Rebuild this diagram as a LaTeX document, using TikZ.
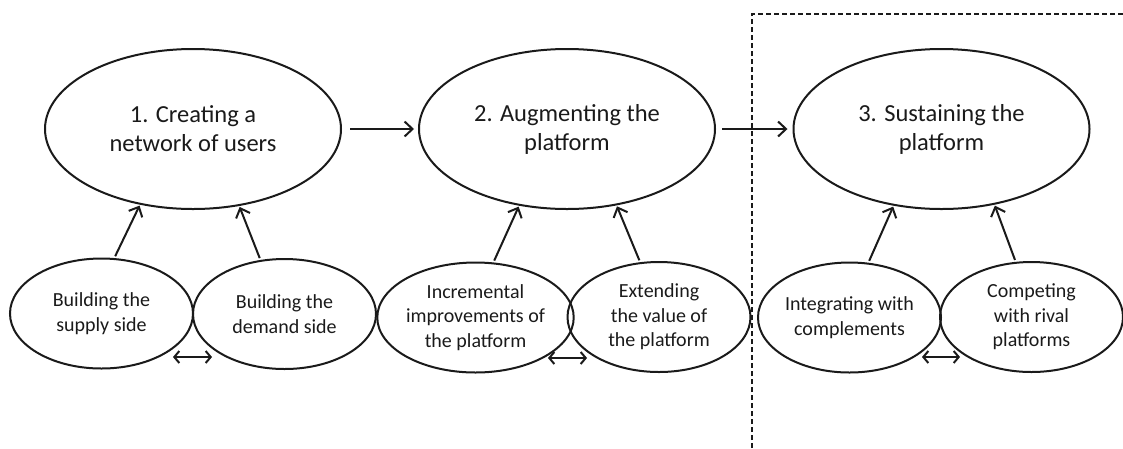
\documentclass[tikz,border=0pt]{standalone}
\usepackage{fontspec}
\setmainfont{Carlito}
\usetikzlibrary{shapes.geometric,arrows.meta}
\definecolor{ink}{HTML}{1A1A1A}
\tikzset{
  bigell/.style={draw=ink, line width=2pt, ellipse, inner sep=0pt, minimum width=296pt, minimum height=160pt,
    align=center, font=\fontsize{24.5}{29}\selectfont, text=ink},
  smallell/.style={draw=ink, line width=2pt, ellipse, inner sep=0pt, minimum width=183pt, minimum height=110pt,
    align=center, font=\fontsize{20}{24.5}\selectfont, text=ink},
  flow/.style={draw=ink, line width=2pt, -{Straight Barb[length=8pt,width=15pt,line width=2pt]}},
  mutual/.style={draw=ink, line width=2pt, {Straight Barb[length=5pt,width=12pt,line width=2pt]}-{Straight Barb[length=5pt,width=12pt,line width=2pt]}},
  phase/.style={draw=ink, line width=1.1pt, dash pattern=on 5pt off 3pt}
}
\begin{document}
\begin{tikzpicture}[x=1pt,y=-1pt]
\useasboundingbox (0,0) rectangle (1123,448);
% dashed boundary
\coordinate (dtop) at (752,14);
\coordinate (dright) at (1123,14);
\coordinate (dbot) at (752,448);
\draw[phase] (dbot) -- (dtop) -- (dright);
% big ellipses
\node[bigell] (e1) at (193,129) {1. Creating a\\network of users};
\node[bigell] (e2) at (567,129) {2. Augmenting the\\platform};
\node[bigell] (e3) at (941.5,129) {3. Sustaining the\\platform};
% small ellipses
\node[smallell] (s1a) at (101.5,313.5) {Building the\\supply side};
\node[smallell] (s1b) at (284.5,314) {Building the\\demand side};
\node[smallell] (s2a) at (475.5,317.5) {Incremental\\improvements of\\the platform};
\node[smallell] (s2b) at (659,317) {Extending\\the value of\\the platform};
\node[smallell] (s3a) at (849.5,317.5) {Integrating with\\complements};
\node[smallell] (s3b) at (1031.5,317) {Competing\\with rival\\platforms};
% flow arrows
\draw[flow, shorten <=8pt, shorten >=4pt] (e1.east) -- (e2.west);
\draw[flow, shorten <=6pt, shorten >=5pt] (e2.east) -- (e3.west);
% contributing arrows
\draw[flow, shorten <=2pt, shorten >=1pt] (s1a.77) -- (e1.235);
\draw[flow, shorten <=2pt, shorten >=1pt] (s1b.114) -- (e1.301.5);
\draw[flow, shorten <=2pt, shorten >=1pt] (s2a.72.7) -- (e2.238.6);
\draw[flow, shorten <=2pt, shorten >=1pt] (s2b.109.6) -- (e2.303.9);
\draw[flow, shorten <=2pt, shorten >=1pt] (s3a.71.6) -- (e3.238.3);
\draw[flow, shorten <=2pt, shorten >=1pt] (s3b.106) -- (e3.305.7);
% mutual arrows
\coordinate (m1l) at (173,357); \coordinate (m1r) at (212,357);
\coordinate (m2l) at (548,358); \coordinate (m2r) at (587,358);
\coordinate (m3l) at (922,357); \coordinate (m3r) at (960,357);
\draw[mutual] (m1l) -- (m1r);
\draw[mutual] (m2l) -- (m2r);
\draw[mutual] (m3l) -- (m3r);
\end{tikzpicture}
\end{document}
